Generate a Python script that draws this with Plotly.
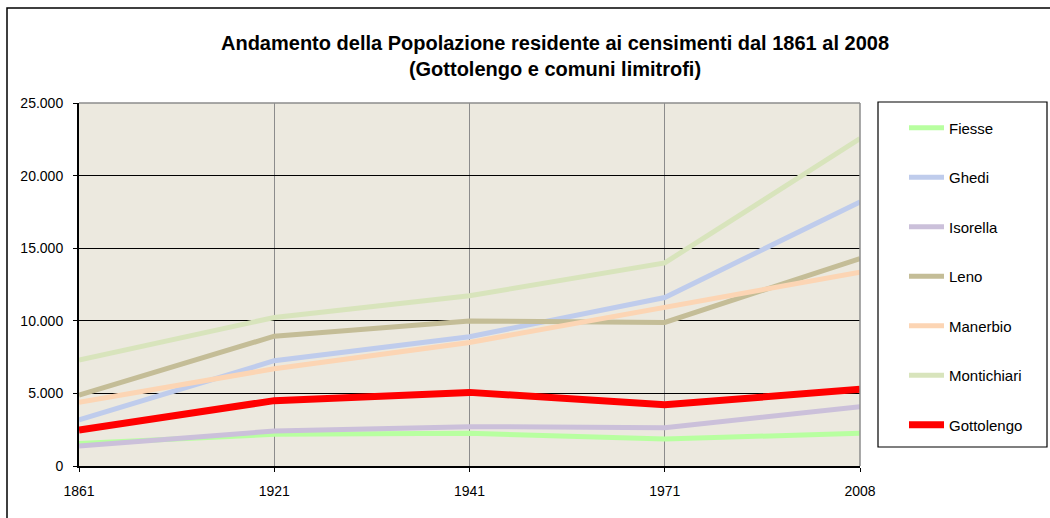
import plotly.graph_objects as go

# Census years (categorical axis, evenly spaced)
anni = ["1861", "1921", "1941", "1971", "2008"]

# Resident population per municipality
fiesse = [1550, 2180, 2250, 1860, 2250]
ghedi = [3170, 7250, 8900, 11600, 18190]
isorella = [1380, 2410, 2710, 2640, 4080]
leno = [4890, 8940, 9980, 9890, 14290]
manerbio = [4380, 6700, 8510, 10960, 13350]
montichiari = [7290, 10230, 11720, 13990, 22550]
gottolengo = [2480, 4500, 5070, 4220, 5280]

serie = [
    ("Fiesse", fiesse, "#B8FFA0", 5),
    ("Ghedi", ghedi, "#BFCCEC", 5),
    ("Isorella", isorella, "#CBC0DA", 5),
    ("Leno", leno, "#C4BD97", 5),
    ("Manerbio", manerbio, "#FCD5B4", 5),
    ("Montichiari", montichiari, "#D8E4BC", 5),
    ("Gottolengo", gottolengo, "#FF0000", 7),
]

fig = go.Figure()
for nome, valori, colore, spessore in serie:
    fig.add_trace(go.Scatter(
        x=anni, y=valori, name=nome, mode="lines",
        legendgroup=nome,
        line=dict(color=colore, width=spessore),
    ))

W, H = 1050, 518
L, R, T, B = 79, 190, 103, 52
pw, ph = W - L - R, H - T - B


def px_x(p):
    return (p - L) / pw


def px_y(p):
    return (H - B - p) / ph


FONT = "Liberation Sans, Arial, sans-serif"

fig.update_layout(
    width=W, height=H,
    margin=dict(l=L, r=R, t=T, b=B),
    paper_bgcolor="white",
    plot_bgcolor="#ECE9DF",
    separators=",.",
    font=dict(family=FONT, color="black", size=14),
    title=dict(
        text="Andamento della Popolazione residente ai censimenti dal 1861 al 2008<br>(Gottolengo e comuni limitrofi)",
        x=555 / W, xanchor="center",
        y=1 - 50 / H, yanchor="top",
        font=dict(size=20, family=FONT, weight="bold"),
    ),
    xaxis=dict(
        type="category",
        range=[0, 4],
        showgrid=True, gridcolor="#8C8C8C", gridwidth=1,
        showline=True, linecolor="black", linewidth=2,
        ticks="outside", ticklen=4, tickcolor="black",
        ticklabelstandoff=7,
        tickfont=dict(size=14),
        zeroline=False,
        fixedrange=True,
    ),
    yaxis=dict(
        range=[0, 25000],
        tickvals=[0, 5000, 10000, 15000, 20000, 25000],
        tickformat=",d",
        showgrid=True, gridcolor="black", gridwidth=1,
        showline=True, linecolor="black", linewidth=2,
        ticks="outside", ticklen=4, tickcolor="black",
        ticklabelstandoff=7,
        tickfont=dict(size=14),
        zeroline=False,
    ),
    legend=dict(
        x=px_x(904), xanchor="left",
        y=px_y(111.5), yanchor="top",
        bgcolor="rgba(0,0,0,0)",
        borderwidth=0,
        font=dict(size=15),
        tracegroupgap=27,
        itemwidth=35,
    ),
    showlegend=True,
)

# plot-area top and right border (gray), legend frame and outer chart frame
fig.add_shape(type="line", xref="paper", yref="paper", x0=0, x1=1, y0=1, y1=1,
              line=dict(color="#8C8C8C", width=1.5))
fig.add_shape(type="line", xref="paper", yref="paper", x0=1, x1=1, y0=0, y1=1,
              line=dict(color="#8C8C8C", width=1.5))
fig.add_shape(type="rect", xref="paper", yref="paper",
              x0=px_x(878), x1=px_x(1047), y0=px_y(447), y1=px_y(102),
              line=dict(color="black", width=1.2))
fig.add_shape(type="rect", xref="paper", yref="paper",
              x0=px_x(7), x1=px_x(1070), y0=px_y(540), y1=px_y(8),
              line=dict(color="black", width=1.5))

fig.write_html("out.html")
